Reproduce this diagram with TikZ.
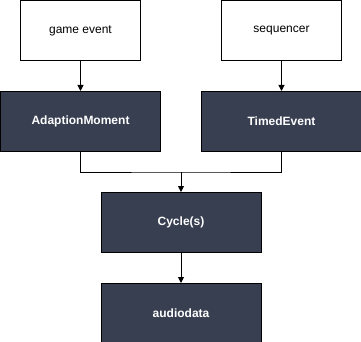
\documentclass[tikz,border=0pt]{standalone}
\usepackage{fontspec}
\setmainfont{Liberation Sans}
\usetikzlibrary{positioning,calc,arrows.meta}
\definecolor{slate}{RGB}{56,63,81}

\begin{document}
\begin{tikzpicture}[
        x=1pt, y=1pt,
        line width=1pt,
        node distance=30pt,
        source/.style={draw, fill=white, minimum width=120pt, minimum height=60pt, font=\fontsize{12}{14}\selectfont},
        block/.style={draw, fill=slate, text=white, minimum width=160pt, minimum height=60pt, font=\fontsize{12}{14}\selectfont\bfseries},
        flow/.style={-{Triangle[length=6pt,width=6pt]}}
    ]
    \useasboundingbox (-0.5,0.5) rectangle (360.5,-341.5);
    % inputs
    \node[source] (game) at (80,-30) {game event};
    \node[source, right=80pt of game] (seq) {sequencer};
    % dark blocks
    \node[block, below=of game] (adapt) {AdaptionMoment};
    \node[block, below=of seq] (timed) {TimedEvent};
    \coordinate (join) at ($(adapt.south)!0.5!(timed.south)+(0,-20)$);
    \node[block, below=20pt of join] (cycle) {Cycle(s)};
    \node[block, below=of cycle] (audio) {audiodata};

    \draw[flow] (game) -- (adapt);
    \draw[flow] (seq) -- (timed);
    \draw (adapt.south) |- (join) -| (timed.south);
    \draw[flow] (join) -- (cycle);
    \draw[flow] (cycle) -- (audio);
\end{tikzpicture}
\end{document}
